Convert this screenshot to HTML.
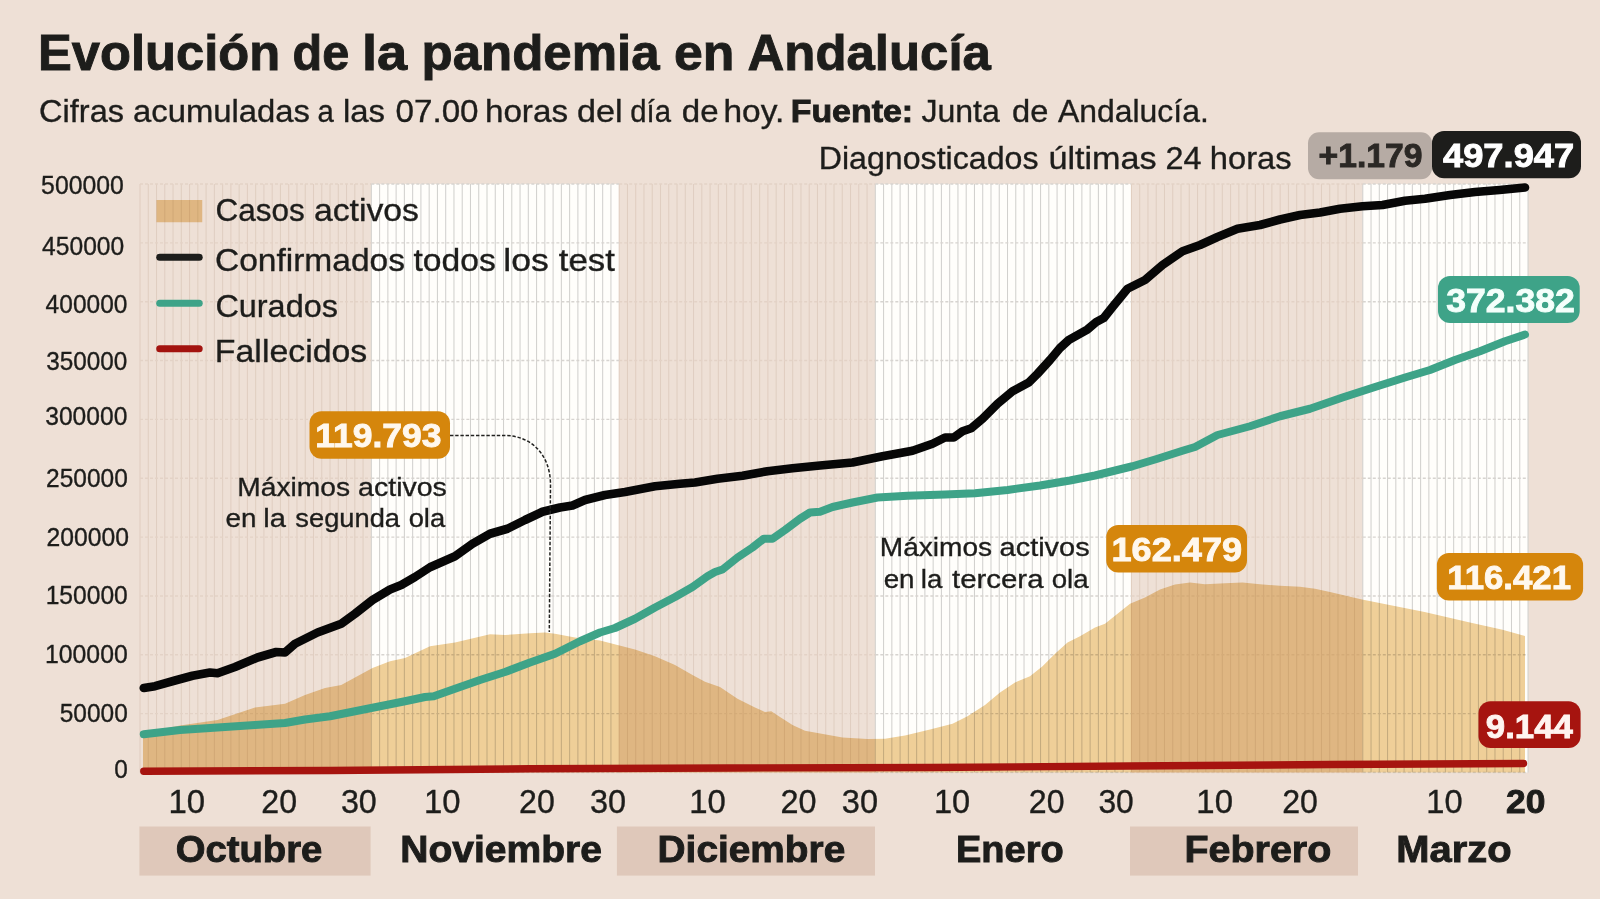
<!DOCTYPE html>
<html lang="es"><head><meta charset="utf-8"><title>Evolución de la pandemia en Andalucía</title>
<style>html,body{margin:0;padding:0;background:#eee0d6;}body{width:1600px;height:899px;overflow:hidden;}svg{display:block;}text{font-family:"Liberation Sans",sans-serif;}</style></head><body>
<svg width="1600" height="899" viewBox="0 0 1600 899">
<rect width="1600" height="899" fill="#eee0d6"/>
<g>
<rect x="140.00" y="184.0" width="231.34" height="588.5" fill="#eee0d6"/>
<rect x="371.34" y="184.0" width="247.86" height="588.5" fill="#fffefb"/>
<rect x="619.20" y="184.0" width="256.12" height="588.5" fill="#eee0d6"/>
<rect x="875.32" y="184.0" width="256.12" height="588.5" fill="#fffefb"/>
<rect x="1131.44" y="184.0" width="231.34" height="588.5" fill="#eee0d6"/>
<rect x="1362.78" y="184.0" width="165.24" height="588.5" fill="#fffefb"/>
<path d="M140.00 184.0V772.5M148.26 184.0V772.5M156.52 184.0V772.5M164.79 184.0V772.5M173.05 184.0V772.5M181.31 184.0V772.5M189.57 184.0V772.5M197.83 184.0V772.5M206.10 184.0V772.5M214.36 184.0V772.5M222.62 184.0V772.5M230.88 184.0V772.5M239.14 184.0V772.5M247.41 184.0V772.5M255.67 184.0V772.5M263.93 184.0V772.5M272.19 184.0V772.5M280.45 184.0V772.5M288.72 184.0V772.5M296.98 184.0V772.5M305.24 184.0V772.5M313.50 184.0V772.5M321.76 184.0V772.5M330.03 184.0V772.5M338.29 184.0V772.5M346.55 184.0V772.5M354.81 184.0V772.5M363.07 184.0V772.5" stroke="#e0cec1" stroke-width="1.05" fill="none"/>
<path d="M371.34 184.0V772.5M379.60 184.0V772.5M387.86 184.0V772.5M396.12 184.0V772.5M404.38 184.0V772.5M412.65 184.0V772.5M420.91 184.0V772.5M429.17 184.0V772.5M437.43 184.0V772.5M445.69 184.0V772.5M453.96 184.0V772.5M462.22 184.0V772.5M470.48 184.0V772.5M478.74 184.0V772.5M487.00 184.0V772.5M495.27 184.0V772.5M503.53 184.0V772.5M511.79 184.0V772.5M520.05 184.0V772.5M528.31 184.0V772.5M536.58 184.0V772.5M544.84 184.0V772.5M553.10 184.0V772.5M561.36 184.0V772.5M569.62 184.0V772.5M577.89 184.0V772.5M586.15 184.0V772.5M594.41 184.0V772.5M602.67 184.0V772.5M610.93 184.0V772.5" stroke="#d2d1ce" stroke-width="1.05" fill="none"/>
<path d="M619.20 184.0V772.5M627.46 184.0V772.5M635.72 184.0V772.5M643.98 184.0V772.5M652.24 184.0V772.5M660.51 184.0V772.5M668.77 184.0V772.5M677.03 184.0V772.5M685.29 184.0V772.5M693.55 184.0V772.5M701.82 184.0V772.5M710.08 184.0V772.5M718.34 184.0V772.5M726.60 184.0V772.5M734.86 184.0V772.5M743.13 184.0V772.5M751.39 184.0V772.5M759.65 184.0V772.5M767.91 184.0V772.5M776.17 184.0V772.5M784.44 184.0V772.5M792.70 184.0V772.5M800.96 184.0V772.5M809.22 184.0V772.5M817.48 184.0V772.5M825.75 184.0V772.5M834.01 184.0V772.5M842.27 184.0V772.5M850.53 184.0V772.5M858.79 184.0V772.5M867.06 184.0V772.5" stroke="#e0cec1" stroke-width="1.05" fill="none"/>
<path d="M875.32 184.0V772.5M883.58 184.0V772.5M891.84 184.0V772.5M900.10 184.0V772.5M908.37 184.0V772.5M916.63 184.0V772.5M924.89 184.0V772.5M933.15 184.0V772.5M941.41 184.0V772.5M949.68 184.0V772.5M957.94 184.0V772.5M966.20 184.0V772.5M974.46 184.0V772.5M982.72 184.0V772.5M990.99 184.0V772.5M999.25 184.0V772.5M1007.51 184.0V772.5M1015.77 184.0V772.5M1024.03 184.0V772.5M1032.30 184.0V772.5M1040.56 184.0V772.5M1048.82 184.0V772.5M1057.08 184.0V772.5M1065.34 184.0V772.5M1073.61 184.0V772.5M1081.87 184.0V772.5M1090.13 184.0V772.5M1098.39 184.0V772.5M1106.65 184.0V772.5M1114.92 184.0V772.5M1123.18 184.0V772.5" stroke="#d2d1ce" stroke-width="1.05" fill="none"/>
<path d="M1131.44 184.0V772.5M1139.70 184.0V772.5M1147.96 184.0V772.5M1156.23 184.0V772.5M1164.49 184.0V772.5M1172.75 184.0V772.5M1181.01 184.0V772.5M1189.27 184.0V772.5M1197.54 184.0V772.5M1205.80 184.0V772.5M1214.06 184.0V772.5M1222.32 184.0V772.5M1230.58 184.0V772.5M1238.85 184.0V772.5M1247.11 184.0V772.5M1255.37 184.0V772.5M1263.63 184.0V772.5M1271.89 184.0V772.5M1280.16 184.0V772.5M1288.42 184.0V772.5M1296.68 184.0V772.5M1304.94 184.0V772.5M1313.20 184.0V772.5M1321.47 184.0V772.5M1329.73 184.0V772.5M1337.99 184.0V772.5M1346.25 184.0V772.5M1354.51 184.0V772.5" stroke="#e0cec1" stroke-width="1.05" fill="none"/>
<path d="M1362.78 184.0V772.5M1371.04 184.0V772.5M1379.30 184.0V772.5M1387.56 184.0V772.5M1395.82 184.0V772.5M1404.09 184.0V772.5M1412.35 184.0V772.5M1420.61 184.0V772.5M1428.87 184.0V772.5M1437.13 184.0V772.5M1445.40 184.0V772.5M1453.66 184.0V772.5M1461.92 184.0V772.5M1470.18 184.0V772.5M1478.44 184.0V772.5M1486.71 184.0V772.5M1494.97 184.0V772.5M1503.23 184.0V772.5M1511.49 184.0V772.5M1519.75 184.0V772.5M1528.02 184.0V772.5" stroke="#d2d1ce" stroke-width="1.05" fill="none"/>
</g>
<line x1="140.00" x2="371.34" y1="184.00" y2="184.00" stroke="#e3d2c6" stroke-width="1.4" stroke-dasharray="3 2"/>
<line x1="371.34" x2="619.20" y1="184.00" y2="184.00" stroke="#d7d4d0" stroke-width="1.4" stroke-dasharray="3 2"/>
<line x1="619.20" x2="875.32" y1="184.00" y2="184.00" stroke="#e3d2c6" stroke-width="1.4" stroke-dasharray="3 2"/>
<line x1="875.32" x2="1131.44" y1="184.00" y2="184.00" stroke="#d7d4d0" stroke-width="1.4" stroke-dasharray="3 2"/>
<line x1="1131.44" x2="1362.78" y1="184.00" y2="184.00" stroke="#e3d2c6" stroke-width="1.4" stroke-dasharray="3 2"/>
<line x1="1362.78" x2="1528.02" y1="184.00" y2="184.00" stroke="#d7d4d0" stroke-width="1.4" stroke-dasharray="3 2"/>
<line x1="140.00" x2="371.34" y1="242.85" y2="242.85" stroke="#e3d2c6" stroke-width="1.4" stroke-dasharray="3 2"/>
<line x1="371.34" x2="619.20" y1="242.85" y2="242.85" stroke="#d7d4d0" stroke-width="1.4" stroke-dasharray="3 2"/>
<line x1="619.20" x2="875.32" y1="242.85" y2="242.85" stroke="#e3d2c6" stroke-width="1.4" stroke-dasharray="3 2"/>
<line x1="875.32" x2="1131.44" y1="242.85" y2="242.85" stroke="#d7d4d0" stroke-width="1.4" stroke-dasharray="3 2"/>
<line x1="1131.44" x2="1362.78" y1="242.85" y2="242.85" stroke="#e3d2c6" stroke-width="1.4" stroke-dasharray="3 2"/>
<line x1="1362.78" x2="1528.02" y1="242.85" y2="242.85" stroke="#d7d4d0" stroke-width="1.4" stroke-dasharray="3 2"/>
<line x1="140.00" x2="371.34" y1="301.70" y2="301.70" stroke="#e3d2c6" stroke-width="1.4" stroke-dasharray="3 2"/>
<line x1="371.34" x2="619.20" y1="301.70" y2="301.70" stroke="#d7d4d0" stroke-width="1.4" stroke-dasharray="3 2"/>
<line x1="619.20" x2="875.32" y1="301.70" y2="301.70" stroke="#e3d2c6" stroke-width="1.4" stroke-dasharray="3 2"/>
<line x1="875.32" x2="1131.44" y1="301.70" y2="301.70" stroke="#d7d4d0" stroke-width="1.4" stroke-dasharray="3 2"/>
<line x1="1131.44" x2="1362.78" y1="301.70" y2="301.70" stroke="#e3d2c6" stroke-width="1.4" stroke-dasharray="3 2"/>
<line x1="1362.78" x2="1528.02" y1="301.70" y2="301.70" stroke="#d7d4d0" stroke-width="1.4" stroke-dasharray="3 2"/>
<line x1="140.00" x2="371.34" y1="360.55" y2="360.55" stroke="#e3d2c6" stroke-width="1.4" stroke-dasharray="3 2"/>
<line x1="371.34" x2="619.20" y1="360.55" y2="360.55" stroke="#d7d4d0" stroke-width="1.4" stroke-dasharray="3 2"/>
<line x1="619.20" x2="875.32" y1="360.55" y2="360.55" stroke="#e3d2c6" stroke-width="1.4" stroke-dasharray="3 2"/>
<line x1="875.32" x2="1131.44" y1="360.55" y2="360.55" stroke="#d7d4d0" stroke-width="1.4" stroke-dasharray="3 2"/>
<line x1="1131.44" x2="1362.78" y1="360.55" y2="360.55" stroke="#e3d2c6" stroke-width="1.4" stroke-dasharray="3 2"/>
<line x1="1362.78" x2="1528.02" y1="360.55" y2="360.55" stroke="#d7d4d0" stroke-width="1.4" stroke-dasharray="3 2"/>
<line x1="140.00" x2="371.34" y1="419.40" y2="419.40" stroke="#e3d2c6" stroke-width="1.4" stroke-dasharray="3 2"/>
<line x1="371.34" x2="619.20" y1="419.40" y2="419.40" stroke="#d7d4d0" stroke-width="1.4" stroke-dasharray="3 2"/>
<line x1="619.20" x2="875.32" y1="419.40" y2="419.40" stroke="#e3d2c6" stroke-width="1.4" stroke-dasharray="3 2"/>
<line x1="875.32" x2="1131.44" y1="419.40" y2="419.40" stroke="#d7d4d0" stroke-width="1.4" stroke-dasharray="3 2"/>
<line x1="1131.44" x2="1362.78" y1="419.40" y2="419.40" stroke="#e3d2c6" stroke-width="1.4" stroke-dasharray="3 2"/>
<line x1="1362.78" x2="1528.02" y1="419.40" y2="419.40" stroke="#d7d4d0" stroke-width="1.4" stroke-dasharray="3 2"/>
<line x1="140.00" x2="371.34" y1="478.25" y2="478.25" stroke="#e3d2c6" stroke-width="1.4" stroke-dasharray="3 2"/>
<line x1="371.34" x2="619.20" y1="478.25" y2="478.25" stroke="#d7d4d0" stroke-width="1.4" stroke-dasharray="3 2"/>
<line x1="619.20" x2="875.32" y1="478.25" y2="478.25" stroke="#e3d2c6" stroke-width="1.4" stroke-dasharray="3 2"/>
<line x1="875.32" x2="1131.44" y1="478.25" y2="478.25" stroke="#d7d4d0" stroke-width="1.4" stroke-dasharray="3 2"/>
<line x1="1131.44" x2="1362.78" y1="478.25" y2="478.25" stroke="#e3d2c6" stroke-width="1.4" stroke-dasharray="3 2"/>
<line x1="1362.78" x2="1528.02" y1="478.25" y2="478.25" stroke="#d7d4d0" stroke-width="1.4" stroke-dasharray="3 2"/>
<line x1="140.00" x2="371.34" y1="537.10" y2="537.10" stroke="#e3d2c6" stroke-width="1.4" stroke-dasharray="3 2"/>
<line x1="371.34" x2="619.20" y1="537.10" y2="537.10" stroke="#d7d4d0" stroke-width="1.4" stroke-dasharray="3 2"/>
<line x1="619.20" x2="875.32" y1="537.10" y2="537.10" stroke="#e3d2c6" stroke-width="1.4" stroke-dasharray="3 2"/>
<line x1="875.32" x2="1131.44" y1="537.10" y2="537.10" stroke="#d7d4d0" stroke-width="1.4" stroke-dasharray="3 2"/>
<line x1="1131.44" x2="1362.78" y1="537.10" y2="537.10" stroke="#e3d2c6" stroke-width="1.4" stroke-dasharray="3 2"/>
<line x1="1362.78" x2="1528.02" y1="537.10" y2="537.10" stroke="#d7d4d0" stroke-width="1.4" stroke-dasharray="3 2"/>
<line x1="140.00" x2="371.34" y1="595.95" y2="595.95" stroke="#e3d2c6" stroke-width="1.4" stroke-dasharray="3 2"/>
<line x1="371.34" x2="619.20" y1="595.95" y2="595.95" stroke="#d7d4d0" stroke-width="1.4" stroke-dasharray="3 2"/>
<line x1="619.20" x2="875.32" y1="595.95" y2="595.95" stroke="#e3d2c6" stroke-width="1.4" stroke-dasharray="3 2"/>
<line x1="875.32" x2="1131.44" y1="595.95" y2="595.95" stroke="#d7d4d0" stroke-width="1.4" stroke-dasharray="3 2"/>
<line x1="1131.44" x2="1362.78" y1="595.95" y2="595.95" stroke="#e3d2c6" stroke-width="1.4" stroke-dasharray="3 2"/>
<line x1="1362.78" x2="1528.02" y1="595.95" y2="595.95" stroke="#d7d4d0" stroke-width="1.4" stroke-dasharray="3 2"/>
<line x1="140.00" x2="371.34" y1="654.80" y2="654.80" stroke="#e3d2c6" stroke-width="1.4" stroke-dasharray="3 2"/>
<line x1="371.34" x2="619.20" y1="654.80" y2="654.80" stroke="#d7d4d0" stroke-width="1.4" stroke-dasharray="3 2"/>
<line x1="619.20" x2="875.32" y1="654.80" y2="654.80" stroke="#e3d2c6" stroke-width="1.4" stroke-dasharray="3 2"/>
<line x1="875.32" x2="1131.44" y1="654.80" y2="654.80" stroke="#d7d4d0" stroke-width="1.4" stroke-dasharray="3 2"/>
<line x1="1131.44" x2="1362.78" y1="654.80" y2="654.80" stroke="#e3d2c6" stroke-width="1.4" stroke-dasharray="3 2"/>
<line x1="1362.78" x2="1528.02" y1="654.80" y2="654.80" stroke="#d7d4d0" stroke-width="1.4" stroke-dasharray="3 2"/>
<line x1="140.00" x2="371.34" y1="713.65" y2="713.65" stroke="#e3d2c6" stroke-width="1.4" stroke-dasharray="3 2"/>
<line x1="371.34" x2="619.20" y1="713.65" y2="713.65" stroke="#d7d4d0" stroke-width="1.4" stroke-dasharray="3 2"/>
<line x1="619.20" x2="875.32" y1="713.65" y2="713.65" stroke="#e3d2c6" stroke-width="1.4" stroke-dasharray="3 2"/>
<line x1="875.32" x2="1131.44" y1="713.65" y2="713.65" stroke="#d7d4d0" stroke-width="1.4" stroke-dasharray="3 2"/>
<line x1="1131.44" x2="1362.78" y1="713.65" y2="713.65" stroke="#e3d2c6" stroke-width="1.4" stroke-dasharray="3 2"/>
<line x1="1362.78" x2="1528.02" y1="713.65" y2="713.65" stroke="#d7d4d0" stroke-width="1.4" stroke-dasharray="3 2"/>
<line x1="140.00" x2="371.34" y1="772.50" y2="772.50" stroke="#e3d2c6" stroke-width="1.4" stroke-dasharray="3 2"/>
<line x1="371.34" x2="619.20" y1="772.50" y2="772.50" stroke="#d7d4d0" stroke-width="1.4" stroke-dasharray="3 2"/>
<line x1="619.20" x2="875.32" y1="772.50" y2="772.50" stroke="#e3d2c6" stroke-width="1.4" stroke-dasharray="3 2"/>
<line x1="875.32" x2="1131.44" y1="772.50" y2="772.50" stroke="#d7d4d0" stroke-width="1.4" stroke-dasharray="3 2"/>
<line x1="1131.44" x2="1362.78" y1="772.50" y2="772.50" stroke="#e3d2c6" stroke-width="1.4" stroke-dasharray="3 2"/>
<line x1="1362.78" x2="1528.02" y1="772.50" y2="772.50" stroke="#d7d4d0" stroke-width="1.4" stroke-dasharray="3 2"/>
<polygon points="143.00,772.50 143.00,733.00 180.00,725.50 217.50,720.00 255.00,707.50 285.00,703.75 305.00,695.00 325.00,688.00 341.25,685.00 355.00,677.50 372.50,668.00 390.00,661.25 405.00,658.00 430.00,646.25 455.00,642.50 490.00,634.25 505.00,635.00 530.00,633.25 545.00,632.50 555.00,633.75 575.00,637.50 600.00,640.50 617.50,645.00 635.00,649.50 655.00,656.25 675.00,665.00 692.50,675.00 705.00,681.75 720.00,687.00 737.50,698.75 755.00,707.50 765.00,712.00 771.25,711.25 780.00,717.00 792.50,725.00 805.00,730.75 817.50,733.00 842.50,737.50 867.50,739.00 885.00,738.75 905.00,735.50 930.00,729.50 952.50,723.75 967.50,716.25 985.00,705.00 1000.00,692.50 1015.00,682.50 1030.00,676.25 1042.50,666.25 1055.00,653.75 1067.50,642.50 1080.00,636.25 1095.00,627.50 1105.00,623.75 1117.50,613.75 1130.00,603.75 1145.00,597.50 1160.00,589.50 1175.00,584.50 1190.00,582.50 1205.00,584.25 1225.00,583.25 1242.50,582.50 1260.00,584.25 1280.00,585.75 1300.00,586.75 1315.00,588.75 1330.00,592.00 1362.00,599.40 1424.60,612.00 1471.00,622.80 1502.50,629.70 1525.00,636.00 1525.00,772.50" fill="#efd09b" style="mix-blend-mode:multiply"/>
<rect x="156.5" y="200" width="45.75" height="22.25" fill="#efd09b" style="mix-blend-mode:multiply"/>
<polyline points="143.75,771.25 330.00,770.50 530.00,768.75 730.00,768.00 930.00,767.50 1130.00,766.00 1330.00,764.50 1523.50,763.50" fill="none" stroke="#a6140f" stroke-width="7.4" stroke-linecap="round" stroke-linejoin="round"/>
<polyline points="143.75,734.25 180.00,730.00 217.50,727.50 255.00,725.00 285.00,723.00 305.00,719.50 330.00,716.25 355.00,711.25 380.00,706.25 405.00,701.25 425.00,697.00 433.75,696.25 455.00,688.75 480.00,680.00 505.00,672.00 530.00,662.50 555.00,653.75 580.00,641.25 600.00,632.50 615.00,628.00 635.00,618.75 655.00,607.50 675.00,597.00 692.50,587.00 707.50,576.25 715.00,572.00 722.50,569.50 737.50,557.50 752.50,547.50 763.75,538.75 772.50,538.75 785.00,530.00 800.00,518.75 810.00,512.50 820.00,511.75 832.50,507.00 852.50,502.50 877.50,497.50 907.50,495.75 945.00,494.50 975.00,493.25 1007.50,490.00 1040.00,485.50 1070.00,480.50 1095.00,475.50 1132.50,466.25 1157.50,458.75 1182.50,450.75 1195.00,447.00 1217.50,435.00 1250.00,426.25 1280.00,416.25 1310.00,408.75 1342.50,397.50 1375.00,387.00 1405.00,377.50 1430.00,370.00 1455.00,360.00 1480.00,351.25 1505.00,341.25 1525.00,334.50" fill="none" stroke="#3ea388" stroke-width="8" stroke-linecap="round" stroke-linejoin="round"/>
<polyline points="143.75,688.00 155.00,686.20 175.00,680.50 192.50,675.75 210.00,672.50 217.50,673.25 235.00,667.00 257.50,657.50 276.25,652.00 285.00,652.50 295.00,643.75 317.50,632.50 341.25,623.75 355.00,613.75 372.50,600.00 390.00,589.50 401.25,585.00 415.00,577.00 430.00,567.25 455.00,556.25 472.50,543.75 490.00,533.75 507.50,528.75 525.00,520.00 542.50,511.75 560.00,507.50 572.50,505.50 585.00,500.00 605.00,495.00 625.00,492.00 655.00,486.25 680.00,483.75 695.00,482.50 717.50,478.75 742.50,475.75 767.50,471.25 792.50,468.25 820.00,465.50 852.50,462.50 882.50,456.25 912.50,450.75 932.50,443.75 945.00,437.50 953.75,437.50 962.50,431.25 971.25,428.25 982.50,418.75 997.50,403.75 1012.50,391.25 1028.75,382.50 1037.50,373.75 1050.00,360.00 1060.00,348.00 1068.75,340.00 1081.25,333.00 1087.50,329.40 1096.25,322.00 1103.75,318.00 1112.50,307.00 1127.50,288.75 1145.00,280.00 1162.50,265.00 1182.50,251.25 1200.00,245.00 1217.50,237.00 1237.50,228.75 1260.00,225.00 1280.00,219.50 1300.00,215.00 1320.00,212.50 1340.00,208.75 1362.50,206.25 1382.50,205.00 1405.00,200.75 1425.00,198.75 1450.00,195.00 1475.00,192.00 1499.50,190.00 1525.00,187.50" fill="none" stroke="#070707" stroke-width="8.6" stroke-linecap="round" stroke-linejoin="round"/>
<line x1="159.7" x2="199.2" y1="257.2" y2="257.2" stroke="#1d1d1b" stroke-width="7" stroke-linecap="round"/>
<line x1="159.7" x2="199.2" y1="303.2" y2="303.2" stroke="#3ea388" stroke-width="7" stroke-linecap="round"/>
<line x1="159.7" x2="199.2" y1="348.75" y2="348.75" stroke="#a3130f" stroke-width="7" stroke-linecap="round"/>
<path d="M450 435.4H505C532 436 550.5 455 550.5 485L549.3 632" fill="none" stroke="#222220" stroke-width="1.5" stroke-dasharray="3.4 1.8"/>
<rect x="1308" y="132.2" width="124.00" height="47.00" rx="11" ry="11" fill="#b6aba4"/>
<rect x="1432" y="131" width="149.00" height="47.20" rx="12" ry="12" fill="#1d1d1b"/>
<rect x="1438" y="275.9" width="141.70" height="47.10" rx="12" ry="12" fill="#3ea388"/>
<rect x="1436.9" y="553.1" width="146.20" height="47.50" rx="12" ry="12" fill="#d5860c"/>
<rect x="1478.5" y="701.25" width="102.10" height="46.85" rx="12" ry="12" fill="#a6140f"/>
<rect x="309.5" y="411.25" width="140.50" height="47.50" rx="12" ry="12" fill="#d5860c"/>
<rect x="1106.25" y="525" width="140.75" height="47.50" rx="12" ry="12" fill="#d5860c"/>
<rect x="139.4" y="826.5" width="231.20" height="49.1" fill="#dfc8ba"/>
<rect x="616.9" y="826.5" width="258.10" height="49.1" fill="#dfc8ba"/>
<rect x="1130" y="826.5" width="228.00" height="49.1" fill="#dfc8ba"/>
<text transform="translate(38.08,70.00) scale(1.0259,1)" font-size="49.4" font-weight="700" stroke="#1d1d1b" stroke-width="0.9" fill="#1d1d1b">Evolución</text>
<text transform="translate(292.48,70.00) scale(0.9840,1)" font-size="49.4" font-weight="700" stroke="#1d1d1b" stroke-width="0.9" fill="#1d1d1b">de</text>
<text transform="translate(361.91,70.00) scale(1.0982,1)" font-size="49.4" font-weight="700" stroke="#1d1d1b" stroke-width="0.9" fill="#1d1d1b">la</text>
<text transform="translate(421.51,70.00) scale(1.0328,1)" font-size="49.4" font-weight="700" stroke="#1d1d1b" stroke-width="0.9" fill="#1d1d1b">pandemia</text>
<text transform="translate(673.98,70.00) scale(1.0481,1)" font-size="49.4" font-weight="700" stroke="#1d1d1b" stroke-width="0.9" fill="#1d1d1b">en</text>
<text transform="translate(747.60,70.00) scale(1.0307,1)" font-size="49.4" font-weight="700" stroke="#1d1d1b" stroke-width="0.9" fill="#1d1d1b">Andalucía</text>
<text transform="translate(39.08,121.50) scale(1.0426,1)" font-size="31.2" stroke="#1d1d1b" stroke-width="0.35" fill="#1d1d1b">Cifras</text>
<text transform="translate(132.97,121.50) scale(1.0524,1)" font-size="31.2" stroke="#1d1d1b" stroke-width="0.35" fill="#1d1d1b">acumuladas</text>
<text transform="translate(317.48,121.50) scale(0.9412,1)" font-size="31.2" stroke="#1d1d1b" stroke-width="0.35" fill="#1d1d1b">a</text>
<text transform="translate(342.94,121.50) scale(1.0552,1)" font-size="31.2" stroke="#1d1d1b" stroke-width="0.35" fill="#1d1d1b">las</text>
<text transform="translate(395.46,121.50) scale(1.0652,1)" font-size="31.2" stroke="#1d1d1b" stroke-width="0.35" fill="#1d1d1b">07.00</text>
<text transform="translate(484.92,121.50) scale(1.0650,1)" font-size="31.2" stroke="#1d1d1b" stroke-width="0.35" fill="#1d1d1b">horas</text>
<text transform="translate(576.93,121.50) scale(1.0957,1)" font-size="31.2" stroke="#1d1d1b" stroke-width="0.35" fill="#1d1d1b">del</text>
<text transform="translate(630.33,121.50) scale(0.9391,1)" font-size="31.2" stroke="#1d1d1b" stroke-width="0.35" fill="#1d1d1b">día</text>
<text transform="translate(681.77,121.50) scale(1.0596,1)" font-size="31.2" stroke="#1d1d1b" stroke-width="0.35" fill="#1d1d1b">de</text>
<text transform="translate(723.51,121.50) scale(1.0725,1)" font-size="31.2" stroke="#1d1d1b" stroke-width="0.35" fill="#1d1d1b">hoy.</text>
<text transform="translate(790.68,121.50) scale(1.0868,1)" font-size="31.2" font-weight="700" stroke="#1d1d1b" stroke-width="0.9" fill="#1d1d1b">Fuente:</text>
<text transform="translate(921.40,121.50) scale(1.0272,1)" font-size="31.2" stroke="#1d1d1b" stroke-width="0.35" fill="#1d1d1b">Junta</text>
<text transform="translate(1011.98,121.50) scale(1.0473,1)" font-size="31.2" stroke="#1d1d1b" stroke-width="0.35" fill="#1d1d1b">de</text>
<text transform="translate(1058.00,121.50) scale(1.0234,1)" font-size="31.2" stroke="#1d1d1b" stroke-width="0.35" fill="#1d1d1b">Andalucía.</text>
<text transform="translate(818.74,168.75) scale(1.0044,1)" font-size="32" stroke="#1d1d1b" stroke-width="0.35" fill="#1d1d1b">Diagnosticados</text>
<text transform="translate(1048.46,168.75) scale(1.0675,1)" font-size="32" stroke="#1d1d1b" stroke-width="0.35" fill="#1d1d1b">últimas</text>
<text transform="translate(1165.38,168.75) scale(1.0121,1)" font-size="32" stroke="#1d1d1b" stroke-width="0.35" fill="#1d1d1b">24</text>
<text transform="translate(1209.86,168.75) scale(1.0215,1)" font-size="32" stroke="#1d1d1b" stroke-width="0.35" fill="#1d1d1b">horas</text>
<text transform="translate(1318.55,167.20) scale(0.9959,1)" font-size="33.8" font-weight="700" stroke="#2b2825" stroke-width="0.9" fill="#2b2825">+1.179</text>
<text transform="translate(1443.00,167.20) scale(1.0744,1)" font-size="33.8" font-weight="700" stroke="#ffffff" stroke-width="0.9" fill="#ffffff">497.947</text>
<text transform="translate(1446.24,312.00) scale(1.0529,1)" font-size="33.8" font-weight="700" stroke="#f4fffb" stroke-width="0.9" fill="#f4fffb">372.382</text>
<text transform="translate(1447.22,589.00) scale(1.0237,1)" font-size="34" font-weight="700" stroke="#fff8ee" stroke-width="0.9" fill="#fff8ee">116.421</text>
<text transform="translate(1485.81,738.00) scale(1.0233,1)" font-size="34" font-weight="700" stroke="#fff4f0" stroke-width="0.9" fill="#fff4f0">9.144</text>
<text transform="translate(315.29,446.75) scale(1.0481,1)" font-size="33.8" font-weight="700" stroke="#fff8ee" stroke-width="0.9" fill="#fff8ee">119.793</text>
<text transform="translate(1111.49,560.75) scale(1.0694,1)" font-size="33.8" font-weight="700" stroke="#fff8ee" stroke-width="0.9" fill="#fff8ee">162.479</text>
<text transform="translate(41.12,194.40) scale(0.9925,1)" font-size="25" stroke="#1d1d1b" stroke-width="0.35" fill="#1d1d1b">500000</text>
<text transform="translate(42.12,254.50) scale(0.9841,1)" font-size="25" stroke="#1d1d1b" stroke-width="0.35" fill="#1d1d1b">450000</text>
<text transform="translate(45.62,312.50) scale(0.9805,1)" font-size="25" stroke="#1d1d1b" stroke-width="0.35" fill="#1d1d1b">400000</text>
<text transform="translate(46.24,369.50) scale(0.9729,1)" font-size="25" stroke="#1d1d1b" stroke-width="0.35" fill="#1d1d1b">350000</text>
<text transform="translate(45.23,425.40) scale(0.9851,1)" font-size="25" stroke="#1d1d1b" stroke-width="0.35" fill="#1d1d1b">300000</text>
<text transform="translate(46.05,487.20) scale(0.9801,1)" font-size="25" stroke="#1d1d1b" stroke-width="0.35" fill="#1d1d1b">250000</text>
<text transform="translate(46.44,546.40) scale(0.9886,1)" font-size="25" stroke="#1d1d1b" stroke-width="0.35" fill="#1d1d1b">200000</text>
<text transform="translate(45.66,604.40) scale(0.9848,1)" font-size="25" stroke="#1d1d1b" stroke-width="0.35" fill="#1d1d1b">150000</text>
<text transform="translate(44.95,663.20) scale(0.9934,1)" font-size="25" stroke="#1d1d1b" stroke-width="0.35" fill="#1d1d1b">100000</text>
<text transform="translate(59.73,721.70) scale(0.9792,1)" font-size="25" stroke="#1d1d1b" stroke-width="0.35" fill="#1d1d1b">50000</text>
<text transform="translate(114.24,778.00) scale(0.9760,1)" font-size="25" stroke="#1d1d1b" stroke-width="0.35" fill="#1d1d1b">0</text>
<text transform="translate(215.42,221.25) scale(0.9847,1)" font-size="32" stroke="#1d1d1b" stroke-width="0.35" fill="#1d1d1b">Casos</text>
<text transform="translate(313.94,221.25) scale(1.0554,1)" font-size="32" stroke="#1d1d1b" stroke-width="0.35" fill="#1d1d1b">activos</text>
<text transform="translate(214.93,271.10) scale(1.0480,1)" font-size="32" stroke="#1d1d1b" stroke-width="0.35" fill="#1d1d1b">Confirmados</text>
<text transform="translate(413.40,271.10) scale(1.0520,1)" font-size="32" stroke="#1d1d1b" stroke-width="0.35" fill="#1d1d1b">todos</text>
<text transform="translate(503.37,271.10) scale(1.1133,1)" font-size="32" stroke="#1d1d1b" stroke-width="0.35" fill="#1d1d1b">los</text>
<text transform="translate(558.75,271.10) scale(1.0883,1)" font-size="32" stroke="#1d1d1b" stroke-width="0.35" fill="#1d1d1b">test</text>
<text transform="translate(215.38,317.10) scale(1.0131,1)" font-size="32" stroke="#1d1d1b" stroke-width="0.35" fill="#1d1d1b">Curados</text>
<text transform="translate(214.85,361.90) scale(1.0582,1)" font-size="32" stroke="#1d1d1b" stroke-width="0.35" fill="#1d1d1b">Fallecidos</text>
<text transform="translate(237.30,496.10) scale(1.0599,1)" font-size="26.6" stroke="#1d1d1b" stroke-width="0.35" fill="#1d1d1b">Máximos</text>
<text transform="translate(358.11,496.10) scale(1.0724,1)" font-size="26.6" stroke="#1d1d1b" stroke-width="0.35" fill="#1d1d1b">activos</text>
<text transform="translate(225.43,526.60) scale(1.0454,1)" font-size="26.6" stroke="#1d1d1b" stroke-width="0.35" fill="#1d1d1b">en</text>
<text transform="translate(263.18,526.60) scale(1.0932,1)" font-size="26.6" stroke="#1d1d1b" stroke-width="0.35" fill="#1d1d1b">la</text>
<text transform="translate(295.37,526.60) scale(1.0254,1)" font-size="26.6" stroke="#1d1d1b" stroke-width="0.35" fill="#1d1d1b">segunda</text>
<text transform="translate(408.65,526.60) scale(1.0277,1)" font-size="26.6" stroke="#1d1d1b" stroke-width="0.35" fill="#1d1d1b">ola</text>
<text transform="translate(879.81,556.25) scale(1.0555,1)" font-size="26.6" stroke="#1d1d1b" stroke-width="0.35" fill="#1d1d1b">Máximos</text>
<text transform="translate(999.60,556.25) scale(1.0878,1)" font-size="26.6" stroke="#1d1d1b" stroke-width="0.35" fill="#1d1d1b">activos</text>
<text transform="translate(883.63,587.50) scale(1.0454,1)" font-size="26.6" stroke="#1d1d1b" stroke-width="0.35" fill="#1d1d1b">en</text>
<text transform="translate(920.77,587.50) scale(1.0411,1)" font-size="26.6" stroke="#1d1d1b" stroke-width="0.35" fill="#1d1d1b">la</text>
<text transform="translate(952.00,587.50) scale(1.1060,1)" font-size="26.6" stroke="#1d1d1b" stroke-width="0.35" fill="#1d1d1b">tercera</text>
<text transform="translate(1051.63,587.50) scale(1.0406,1)" font-size="26.6" stroke="#1d1d1b" stroke-width="0.35" fill="#1d1d1b">ola</text>
<text transform="translate(168.54,812.60) scale(1.0147,1)" font-size="32.5" stroke="#1d1d1b" stroke-width="0.35" fill="#1d1d1b">10</text>
<text transform="translate(261.29,812.60) scale(0.9891,1)" font-size="32.5" stroke="#1d1d1b" stroke-width="0.35" fill="#1d1d1b">20</text>
<text transform="translate(340.89,812.60) scale(0.9934,1)" font-size="32.5" stroke="#1d1d1b" stroke-width="0.35" fill="#1d1d1b">30</text>
<text transform="translate(423.94,812.60) scale(1.0117,1)" font-size="32.5" stroke="#1d1d1b" stroke-width="0.35" fill="#1d1d1b">10</text>
<text transform="translate(519.10,812.60) scale(0.9877,1)" font-size="32.5" stroke="#1d1d1b" stroke-width="0.35" fill="#1d1d1b">20</text>
<text transform="translate(589.99,812.60) scale(0.9993,1)" font-size="32.5" stroke="#1d1d1b" stroke-width="0.35" fill="#1d1d1b">30</text>
<text transform="translate(689.19,812.60) scale(1.0132,1)" font-size="32.5" stroke="#1d1d1b" stroke-width="0.35" fill="#1d1d1b">10</text>
<text transform="translate(780.38,812.60) scale(0.9965,1)" font-size="32.5" stroke="#1d1d1b" stroke-width="0.35" fill="#1d1d1b">20</text>
<text transform="translate(841.78,812.60) scale(1.0022,1)" font-size="32.5" stroke="#1d1d1b" stroke-width="0.35" fill="#1d1d1b">30</text>
<text transform="translate(933.96,812.60) scale(1.0027,1)" font-size="32.5" stroke="#1d1d1b" stroke-width="0.35" fill="#1d1d1b">10</text>
<text transform="translate(1028.79,812.60) scale(0.9891,1)" font-size="32.5" stroke="#1d1d1b" stroke-width="0.35" fill="#1d1d1b">20</text>
<text transform="translate(1098.41,812.60) scale(0.9789,1)" font-size="32.5" stroke="#1d1d1b" stroke-width="0.35" fill="#1d1d1b">30</text>
<text transform="translate(1196.34,812.60) scale(1.0147,1)" font-size="32.5" stroke="#1d1d1b" stroke-width="0.35" fill="#1d1d1b">10</text>
<text transform="translate(1282.24,812.60) scale(0.9891,1)" font-size="32.5" stroke="#1d1d1b" stroke-width="0.35" fill="#1d1d1b">20</text>
<text transform="translate(1426.36,812.60) scale(1.0057,1)" font-size="32.5" stroke="#1d1d1b" stroke-width="0.35" fill="#1d1d1b">10</text>
<text transform="translate(1506.09,812.60) scale(1.0882,1)" font-size="32.5" font-weight="700" stroke="#1d1d1b" stroke-width="0.9" fill="#1d1d1b">20</text>
<text transform="translate(175.70,861.50) scale(1.0345,1)" font-size="37" font-weight="700" stroke="#1d1d1b" stroke-width="0.9" fill="#1d1d1b">Octubre</text>
<text transform="translate(400.36,861.50) scale(1.0543,1)" font-size="37" font-weight="700" stroke="#1d1d1b" stroke-width="0.9" fill="#1d1d1b">Noviembre</text>
<text transform="translate(657.57,861.50) scale(1.0496,1)" font-size="37" font-weight="700" stroke="#1d1d1b" stroke-width="0.9" fill="#1d1d1b">Diciembre</text>
<text transform="translate(956.02,861.50) scale(1.0273,1)" font-size="37" font-weight="700" stroke="#1d1d1b" stroke-width="0.9" fill="#1d1d1b">Enero</text>
<text transform="translate(1184.43,861.50) scale(1.0661,1)" font-size="37" font-weight="700" stroke="#1d1d1b" stroke-width="0.9" fill="#1d1d1b">Febrero</text>
<text transform="translate(1396.25,861.50) scale(1.0791,1)" font-size="37" font-weight="700" stroke="#1d1d1b" stroke-width="0.9" fill="#1d1d1b">Marzo</text>
</svg></body></html>
